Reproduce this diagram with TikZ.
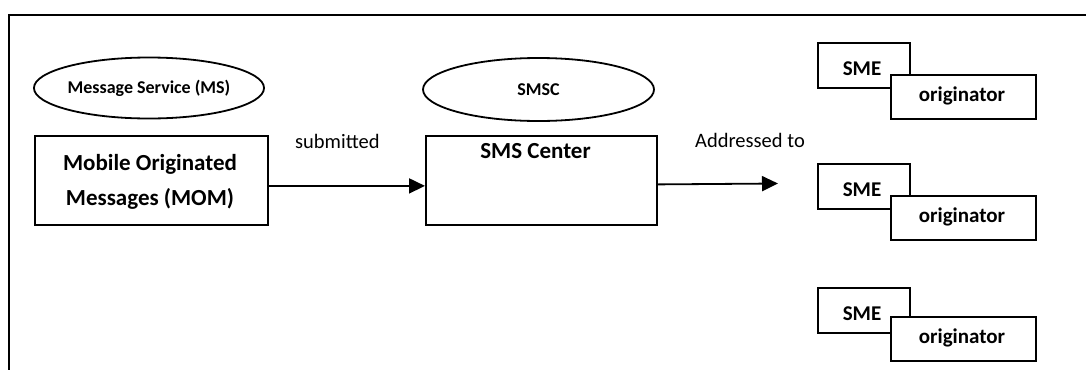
\documentclass[tikz,border=0pt]{standalone}
\usepackage{fontspec}
\setmainfont{Carlito}
\usetikzlibrary{arrows.meta,shapes.geometric}
\tikzset{
 frameline/.style={line width=2.2pt},
 ell/.style={draw, ellipse, line width=1.8pt, inner sep=0pt, font=\fontsize{18}{20}\selectfont\bfseries},
 box/.style={draw, fill=white, rectangle, line width=1.8pt, inner sep=0pt, anchor=north west},
 boxtext/.style={font=\fontsize{23}{28}\selectfont\bfseries, anchor=base, inner sep=0pt},
 lbl/.style={font=\fontsize{20.5}{23}\selectfont, anchor=base west, inner sep=0pt},
 smetext/.style={font=\fontsize{21}{24}\selectfont\bfseries, anchor=base, inner sep=0pt},
 arr/.style={-{Triangle[length=16pt,width=15pt]}, line width=1.8pt},
}
\begin{document}
\begin{tikzpicture}[x=1pt,y=-1pt]
\useasboundingbox (0,0) rectangle (1086,370);
\draw[frameline] (1086,15) -- (9,15) -- (9,370);

% ellipses
\node[ell, minimum width=230pt, minimum height=61pt] (ms) at (149,88) {Message Service (MS)};
\node[ell, minimum width=231pt, minimum height=63pt] (smsc) at (538.5,89.5) {SMSC};

% main boxes
\node[box, minimum width=233pt, minimum height=89pt] (mom) at (34,135) {};
\node[boxtext] (mom1) at (150,170) {Mobile Originated};
\node[boxtext] (mom2) at (150,205) {Messages (MOM)};

\node[box, minimum width=231pt, minimum height=89pt] (sms) at (425,135) {};
\node[boxtext] (smst) at (535.5,158) {SMS Center};

% labels
\node[lbl] (sub) at (295,148) {submitted};
\node[lbl] (addr) at (695,147) {Addressed to};

% arrows
\coordinate (tipend) at (778,183.5);
\draw[arr] ([yshift=-5.5pt]mom.east) -- ([yshift=-5.5pt]sms.west);
\draw[arr] ([yshift=-4pt]sms.east) -- (tipend);

% SME groups
\foreach \i/\a/\b in {1/42/74, 2/163/195, 3/287/316}{
  \node[box, minimum width=92pt, minimum height=45pt] (sme\i) at (817,\a) {};
  \node[smetext] (smet\i) at (862,\a+33) {SME};
  \node[box, minimum width=145pt, minimum height=44pt] (orig\i) at (890,\b) {};
  \node[smetext] (origt\i) at (962,\b+27) {originator};
}
\end{tikzpicture}
\end{document}
